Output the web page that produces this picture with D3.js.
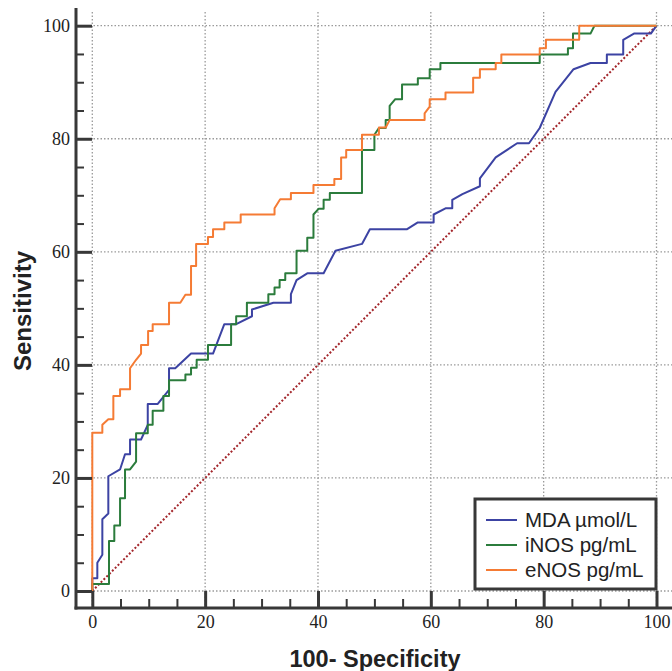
<!DOCTYPE html>
<html>
<head>
	<meta charset="utf-8">
	<title>ROC curves</title>
	<style type="text/css">
		body { margin: 0; background: white; }
		svg { display: block; }
		.tickLbl text { font-family: 'Liberation Serif', 'Times New Roman', serif; font-size: 18px; fill: #222; }
	</style>
	<script src="https://d3js.org/d3.v7.min.js"></script>
</head>
<body>
	<svg width="672" height="671"></svg>
	<script type="text/javascript">
		// curve vertices: [100-specificity, sensitivity]
		var mdaPts = [[0,0],[0,2.25],[0.89,2.25],[0.89,5.0],[1.78,6.4],[1.78,12.7],[2.84,13.7],[2.84,20.3],[4.92,21.5],[5.8,24.2],[6.69,24.2],[6.69,26.8],[8.64,26.8],[9.83,29.4],[9.83,33.1],[11.6,33.1],[13.6,35.6],[13.6,39.4],[14.7,39.4],[17.5,42.0],[21.4,42.0],[23.4,47.2],[25.5,47.2],[28.3,48.6],[28.3,49.8],[32.1,51.0],[35.2,51.0],[35.2,52.5],[36.2,55.0],[38.1,56.2],[41.0,56.2],[43.1,60.2],[47.8,61.4],[49.2,64.0],[55.8,64.0],[57.7,65.2],[60.5,65.2],[60.5,66.6],[62.6,67.7],[63.8,67.7],[63.8,69.2],[65.6,70.2],[68.7,71.6],[68.7,73.0],[71.5,76.7],[75.3,79.2],[77.4,79.2],[79.3,81.9],[82.1,88.3],[85.3,92.3],[88.3,93.4],[91.2,93.4],[91.2,94.9],[94.1,94.9],[94.1,97.5],[96.0,98.6],[99.0,98.6],[100,100]];
		var inosPts = [[0,0],[0,1.24],[2.96,1.24],[2.96,8.85],[3.9,8.85],[3.9,11.6],[4.92,11.6],[4.92,16.4],[5.8,16.4],[5.8,21.5],[6.69,21.5],[7.76,22.9],[7.76,27.9],[9.83,27.9],[9.83,29.4],[10.7,29.4],[10.7,31.9],[12.6,31.9],[12.6,34.5],[13.6,34.5],[13.6,37.3],[16.5,37.3],[16.5,38.3],[17.5,38.3],[17.5,39.5],[18.5,39.5],[18.5,40.9],[20.5,40.9],[20.5,43.5],[24.6,43.5],[24.6,47.2],[25.5,47.2],[25.5,48.6],[27.4,48.6],[27.4,51.0],[31.2,51.0],[31.2,52.5],[32.3,52.5],[32.3,53.7],[33.2,53.7],[33.2,55.0],[34.2,55.0],[34.2,56.2],[36.2,56.2],[36.2,60.2],[38.1,60.2],[38.1,62.5],[39.2,62.5],[39.2,66.6],[40.1,67.6],[41.0,67.6],[41.0,69.2],[42.1,69.2],[42.1,70.4],[47.8,70.4],[47.8,78.0],[50.0,78.0],[50.0,80.7],[50.8,81.9],[52.0,81.9],[52.0,83.3],[52.7,83.3],[52.7,85.8],[53.7,87.0],[54.9,87.0],[54.9,89.6],[57.7,89.6],[57.7,90.7],[59.8,90.7],[59.8,92.3],[61.7,92.3],[61.7,93.4],[79.3,93.4],[79.3,94.9],[84.3,94.9],[84.3,96.0],[85.2,96.0],[85.2,98.6],[88.3,98.6],[89.0,100],[100,100]];
		var enosPts = [[0,0],[0,28.0],[1.78,28.0],[1.78,29.4],[2.84,30.4],[3.73,30.4],[3.73,34.5],[4.92,34.5],[4.92,35.7],[6.69,35.7],[6.69,39.4],[7.76,40.9],[8.64,42.0],[8.64,43.5],[9.89,43.5],[9.89,46.0],[10.7,46.0],[10.7,47.2],[13.6,47.2],[13.6,51.0],[15.6,51.0],[16.5,52.4],[17.5,52.4],[17.5,57.5],[18.4,57.5],[18.4,61.4],[20.5,61.4],[20.5,62.6],[21.4,62.6],[21.4,64.0],[23.4,64.0],[23.4,65.2],[26.3,65.2],[26.3,66.6],[32.3,66.6],[32.3,67.7],[33.3,69.3],[35.2,69.3],[35.2,70.4],[39.2,70.4],[39.2,71.8],[42.9,71.8],[42.9,72.9],[44.1,72.9],[44.1,76.7],[45.0,76.7],[45.0,78.0],[47.8,78.0],[47.8,80.7],[50.8,80.7],[50.8,82.0],[52.0,82.0],[52.7,83.3],[58.9,83.3],[58.9,84.5],[59.8,85.7],[59.8,87.0],[62.6,87.0],[62.6,88.2],[67.5,88.2],[67.5,90.8],[68.7,90.8],[68.7,92.3],[71.5,92.3],[71.5,93.4],[72.5,93.4],[72.5,94.9],[79.3,94.9],[79.3,96.0],[80.4,96.0],[80.4,97.5],[86.3,97.5],[86.3,100],[100,100]];
		var refPts = [[0,0],[100,100]];

		var seriesNames = ['MDA \u00b5mol/L', 'iNOS pg/mL', 'eNOS pg/mL'];
		var seriesCols = ['#3c43a3', '#2b7c3c', '#f57b34'];
		var majorTicks = [0, 20, 40, 60, 80, 100];
		var minorTicks = [5, 10, 15, 25, 30, 35, 45, 50, 55, 65, 70, 75, 85, 90, 95];

		var svg = d3.select('svg');
		var x = d3.scaleLinear().domain([0, 100]).range([92.3, 656.5]);
		var y = d3.scaleLinear().domain([0, 100]).range([591, 25.7]);
		var axX = 76, axY = 608;

		// dotted grid
		var grid = svg.append('g')
			.attr('stroke', '#9a9a9a')
			.attr('stroke-width', 1.3)
			.attr('stroke-dasharray', '1.5,2');
		grid.selectAll('.vg').data(majorTicks).enter().append('line')
			.attr('x1', d => x(d)).attr('x2', d => x(d))
			.attr('y1', 12).attr('y2', axY);
		grid.selectAll('.hg').data(majorTicks).enter().append('line')
			.attr('x1', axX).attr('x2', 672)
			.attr('y1', d => y(d)).attr('y2', d => y(d));

		var lineGen = d3.line().x(d => x(d[0])).y(d => y(d[1]));

		// reference diagonal
		svg.append('path')
			.attr('d', lineGen(refPts))
			.attr('fill', 'none')
			.attr('stroke', '#a3262b')
			.attr('stroke-width', 2)
			.attr('stroke-dasharray', '2,2');

		[mdaPts, inosPts, enosPts].forEach((pts, i) => {
			svg.append('path')
				.attr('d', lineGen(pts))
				.attr('fill', 'none')
				.attr('stroke', seriesCols[i])
				.attr('stroke-width', 2)
				.attr('stroke-linejoin', 'round');
		});

		// axes
		var yMajor = svg.append('g').attr('class', 'tickLbl').attr('transform', 'translate(' + axX + ',0)')
			.call(d3.axisLeft(y).tickValues(majorTicks).tickSizeInner(-16).tickSizeOuter(0).tickPadding(6));
		var yMinor = svg.append('g').attr('transform', 'translate(' + axX + ',0)')
			.call(d3.axisLeft(y).tickValues(minorTicks).tickSizeInner(-8).tickSizeOuter(0).tickFormat(''));
		var xMajor = svg.append('g').attr('class', 'tickLbl').attr('transform', 'translate(0,' + axY + ')')
			.call(d3.axisBottom(x).tickValues(majorTicks).tickSizeInner(-17).tickSizeOuter(0).tickPadding(7));
		var xMinor = svg.append('g').attr('transform', 'translate(0,' + axY + ')')
			.call(d3.axisBottom(x).tickValues(minorTicks).tickSizeInner(-9).tickSizeOuter(0).tickFormat(''));

		[yMajor, yMinor, xMajor, xMinor].forEach(g => g.select('.domain').remove());
		[yMajor, xMajor].forEach(g => g.selectAll('line').attr('stroke', '#383838').attr('stroke-width', 3));
		[yMinor, xMinor].forEach(g => g.selectAll('line').attr('stroke', '#383838').attr('stroke-width', 2));

		svg.append('line')
			.attr('x1', axX).attr('x2', axX).attr('y1', 8).attr('y2', axY + 1.5)
			.attr('stroke', '#383838').attr('stroke-width', 3);
		svg.append('line')
			.attr('x1', axX - 1.5).attr('x2', 672).attr('y1', axY).attr('y2', axY)
			.attr('stroke', '#383838').attr('stroke-width', 3);

		// axis titles
		svg.append('text')
			.attr('x', 375).attr('y', 667)
			.attr('text-anchor', 'middle')
			.attr('font-family', "'Liberation Sans', Arial, sans-serif")
			.attr('font-weight', 'bold')
			.attr('font-size', '23.5px')
			.attr('fill', '#222')
			.text('100- Specificity');
		svg.append('text')
			.attr('transform', 'translate(31,311) rotate(-90)')
			.attr('text-anchor', 'middle')
			.attr('font-family', "'Liberation Sans', Arial, sans-serif")
			.attr('font-weight', 'bold')
			.attr('font-size', '24px')
			.attr('fill', '#222')
			.text('Sensitivity');

		// legend
		var leg = svg.append('g');
		leg.append('rect')
			.attr('x', 475).attr('y', 499).attr('width', 181).attr('height', 90)
			.attr('fill', 'white').attr('stroke', '#383838').attr('stroke-width', 3);
		seriesNames.forEach((name, i) => {
			var ly = 520 + i * 25;
			leg.append('line')
				.attr('x1', 486).attr('x2', 517).attr('y1', ly).attr('y2', ly)
				.attr('stroke', seriesCols[i]).attr('stroke-width', 2);
			leg.append('text')
				.attr('x', 525).attr('y', ly + 7)
				.attr('font-family', "'Liberation Sans', Arial, sans-serif")
				.attr('font-size', '20.5px')
				.attr('fill', '#222')
				.text(name);
		});
	</script>
</body>
</html>
